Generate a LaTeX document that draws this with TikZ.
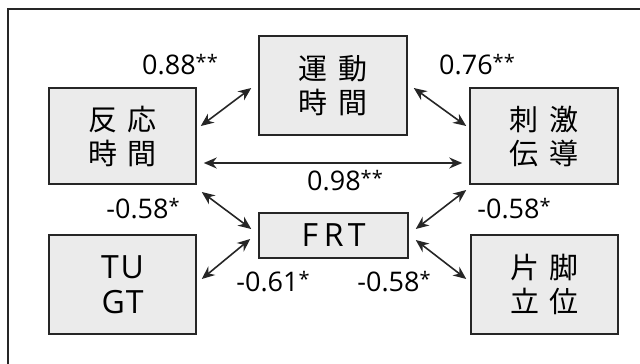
\documentclass[tikz,border=0pt]{standalone}
\usepackage{fontspec}
\setmainfont{Open Sans}
\newfontfamily\jpfont{Noto Sans CJK JP}
\usetikzlibrary{arrows.meta}
\newcommand{\stars}[1]{\raisebox{5pt}{\fontsize{20}{20}\selectfont #1}}
\begin{document}
\begin{tikzpicture}[x=1pt,y=-1pt,
  box/.style={draw=black!85,line width=1.5pt,fill=black!8,inner sep=0pt,align=center},
  jp/.style={font=\jpfont\fontsize{29}{34}\selectfont},
  lat/.style={font=\fontsize{32}{35}\selectfont},
  lbl/.style={font=\fontsize{27}{30}\selectfont,inner sep=0pt},
  link/.style={line width=1.6pt,black!85,{Stealth[length=13pt,width=11pt]}-{Stealth[length=13pt,width=11pt]}}]
\useasboundingbox (0,0) rectangle (640,364);
\draw[line width=1.4pt,black!85] (8,370) -- (8,9) -- (650,9);
\newcommand{\jsp}{\hspace{11pt}}
\node[box,jp,minimum width=147pt,minimum height=96pt] (A) at (122.5,136) {反\jsp 応\\時\jsp 間};
\node[box,jp,minimum width=148pt,minimum height=99pt] (B) at (333,85.5) {運\jsp 動\\時\jsp 間};
\node[box,jp,minimum width=148pt,minimum height=96pt] (C) at (544,136) {刺\jsp 激\\伝\jsp 導};
\node[box,lat,minimum width=147pt,minimum height=99pt] (D) at (122.5,284.5) {T\hspace{2pt}U\\G\hspace{1pt}T};
\node[box,jp,minimum width=147pt,minimum height=99pt] (E) at (544.5,284.5) {片\jsp 脚\\立\jsp 位};
\node[box,lat,minimum width=149pt,minimum height=45pt] (F) at (333.5,235.5) {F\hspace{6pt}R\hspace{4pt}T};
\draw[link] ([shift={(4,-10)}]A.east) -- ([shift={(-7,2.5)}]B.west);
\draw[link] ([shift={(6,2.5)}]B.east) -- ([shift={(-3,-10)}]C.west);
\draw[link] ([shift={(7,27)}]A.east) -- ([shift={(-7,27)}]C.west);
\draw[link] ([shift={(5,56)}]A.east) -- ([shift={(-7,-6.5)}]F.west);
\draw[link] ([shift={(5,-5.5)}]D.east) -- ([shift={(-8,3.5)}]F.west);
\draw[link] ([shift={(7,-6.5)}]F.east) -- ([shift={(-3,54)}]C.west);
\draw[link] ([shift={(7,4.5)}]F.east) -- ([shift={(-4,-5.5)}]E.west);
\node[lbl] (l1) at (180,65) {0.88\stars{**}};
\node[lbl] (l2) at (477,65) {0.76\stars{**}};
\node[lbl] (l3) at (345,181) {0.98\stars{**}};
\node[lbl] (l4) at (143,209) {-0.58\stars{*}};
\node[lbl] (l5) at (273,282) {-0.61\stars{*}};
\node[lbl] (l6) at (514,209) {-0.58\stars{*}};
\node[lbl] (l7) at (394,282) {-0.58\stars{*}};
\end{tikzpicture}
\end{document}
